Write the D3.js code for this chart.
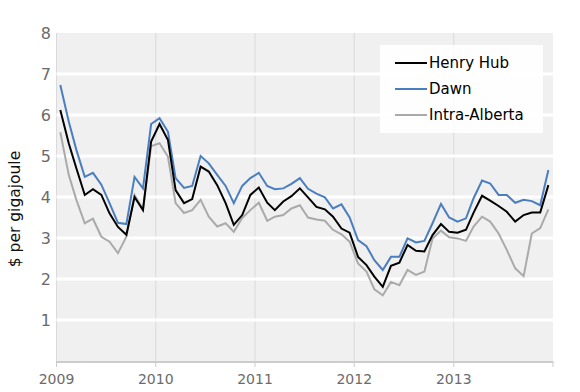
<!DOCTYPE html>
<html>
<head>
<meta charset="utf-8">
<script src="https://cdn.jsdelivr.net/npm/d3@7"></script>
<style>
  body { margin: 0; background: #fff; }
  text { font-family: "DejaVu Sans", sans-serif; }
</style>
</head>
<body>
<div id="chart"></div>
<script>
// Monthly prices, Jan 2009 - Dec 2013
const henryHub = [
  6.12, 5.31, 4.70, 4.05, 4.19, 4.05, 3.60, 3.27, 3.08, 4.00, 3.68, 5.35,
  5.78, 5.39, 4.17, 3.85, 3.95, 4.74, 4.62, 4.29, 3.85, 3.32, 3.56, 4.05,
  4.23, 3.86, 3.68, 3.89, 4.02, 4.21, 3.99, 3.76, 3.70, 3.52, 3.23, 3.13,
  2.54, 2.34, 2.06, 1.81, 2.32, 2.40, 2.83, 2.69, 2.67, 3.07, 3.34, 3.15,
  3.13, 3.20, 3.62, 4.03, 3.91, 3.78, 3.64, 3.40, 3.56, 3.62, 3.62, 4.29
];
const dawn = [
  6.73, 5.84, 5.15, 4.49, 4.59, 4.30, 3.85, 3.37, 3.34, 4.49, 4.21, 5.78,
  5.92, 5.59, 4.46, 4.22, 4.27, 5.00, 4.82, 4.54, 4.27, 3.85, 4.27, 4.46,
  4.59, 4.27, 4.19, 4.21, 4.32, 4.46, 4.20, 4.08, 3.99, 3.72, 3.82, 3.50,
  2.95, 2.80, 2.46, 2.22, 2.54, 2.54, 2.99, 2.89, 2.93, 3.36, 3.83, 3.50,
  3.40, 3.48, 3.97, 4.40, 4.33, 4.05, 4.05, 3.86, 3.93, 3.90, 3.80, 4.66
];
const intraAlberta = [
  5.58, 4.54, 3.93, 3.36, 3.47, 3.03, 2.91, 2.63, 3.03, 4.05, 3.70, 5.24,
  5.31, 4.98, 3.85, 3.61, 3.68, 3.93, 3.52, 3.28, 3.36, 3.15, 3.49, 3.68,
  3.86, 3.42, 3.52, 3.56, 3.72, 3.80, 3.50, 3.45, 3.42, 3.20, 3.09, 2.91,
  2.38, 2.18, 1.75, 1.60, 1.93, 1.85, 2.22, 2.10, 2.18, 2.99, 3.18, 3.02,
  2.99, 2.93, 3.28, 3.52, 3.40, 3.11, 2.71, 2.26, 2.07, 3.11, 3.24, 3.70
];
const yTicks = [1, 2, 3, 4, 5, 6, 7, 8];
const yearTicks = [2009, 2010, 2011, 2012, 2013];

// month midpoints
const months = d3.range(60).map(i => new Date(2009, i, 15));

const series = [
  { name: "Henry Hub", values: henryHub, color: "#000000" },
  { name: "Dawn", values: dawn, color: "#4a7ebf" },
  { name: "Intra-Alberta", values: intraAlberta, color: "#aaaaaa" }
];

const width = 580, height = 392;
const plotLeft = 56.5, plotRight = 553, plotTop = 33, plotBottom = 361;

const svg = d3.select("#chart").append("svg")
  .attr("width", width)
  .attr("height", height);

const x = d3.scaleTime()
  .domain([new Date(2009, 0, 1), new Date(2014, 0, 1)])
  .range([plotLeft, plotRight]);
const y = d3.scaleLinear().domain([0, 8]).range([plotBottom, plotTop]);

// background
svg.append("rect")
  .attr("x", plotLeft).attr("y", plotTop)
  .attr("width", plotRight - plotLeft).attr("height", plotBottom - plotTop)
  .attr("fill", "#f0f0f0");

// vertical year grid
svg.selectAll(".vgrid")
  .data(yearTicks)
  .join("line")
  .attr("x1", d => x(new Date(d, 0, 1))).attr("x2", d => x(new Date(d, 0, 1)))
  .attr("y1", plotTop).attr("y2", plotBottom)
  .attr("stroke", "#dadada").attr("stroke-width", 1);

// horizontal white grid
svg.selectAll(".hgrid")
  .data(yTicks.filter(d => d < 8))
  .join("line")
  .attr("x1", plotLeft).attr("x2", plotRight)
  .attr("y1", d => y(d)).attr("y2", d => y(d))
  .attr("stroke", "#ffffff").attr("stroke-width", 3);

// y labels
svg.selectAll(".ylab")
  .data(yTicks)
  .join("text")
  .attr("x", 51).attr("y", d => y(d) + 6)
  .attr("text-anchor", "end")
  .attr("font-size", 16)
  .attr("fill", "#6b6b6b")
  .text(d => d);

// bottom axis
svg.append("line")
  .attr("x1", plotLeft).attr("x2", plotRight)
  .attr("y1", plotBottom + 1).attr("y2", plotBottom + 1)
  .attr("stroke", "#cccccc").attr("stroke-width", 2);
svg.selectAll(".xtick")
  .data(yearTicks.concat([2014]))
  .join("line")
  .attr("x1", d => x(new Date(d, 0, 1))).attr("x2", d => x(new Date(d, 0, 1)))
  .attr("y1", plotBottom).attr("y2", plotBottom + 6)
  .attr("stroke", "#cccccc").attr("stroke-width", 1);
svg.selectAll(".xlab")
  .data(yearTicks)
  .join("text")
  .attr("x", d => x(new Date(d, 0, 1)))
  .attr("y", 384)
  .attr("text-anchor", "middle")
  .attr("font-size", 14)
  .attr("fill", "#6b6b6b")
  .text(d => d);

// y axis title
svg.append("text")
  .attr("transform", "translate(20,209) rotate(-90)")
  .attr("text-anchor", "middle")
  .attr("font-size", 15.5)
  .attr("fill", "#111")
  .text("$ per gigajoule");

// lines
const line = d3.line()
  .x((d, i) => x(months[i]))
  .y(d => y(d));

svg.selectAll(".series")
  .data(series.slice().reverse())
  .join("path")
  .attr("d", d => line(d.values))
  .attr("fill", "none")
  .attr("stroke", d => d.color)
  .attr("stroke-width", 2)
  .attr("stroke-linejoin", "miter");

// legend
const legend = svg.append("g");
legend.append("rect")
  .attr("x", 380).attr("y", 45)
  .attr("width", 163).attr("height", 88)
  .attr("fill", "#ffffff").attr("fill-opacity", 0.88);

const item = legend.selectAll(".item")
  .data(series)
  .join("g")
  .attr("transform", (d, i) => `translate(395,${63 + i * 26})`);
item.append("line")
  .attr("x1", 0).attr("x2", 32)
  .attr("stroke", d => d.color).attr("stroke-width", 2);
item.append("text")
  .attr("x", 34).attr("y", 5)
  .attr("font-size", 15)
  .attr("fill", "#000")
  .text(d => d.name);
</script>
</body>
</html>
